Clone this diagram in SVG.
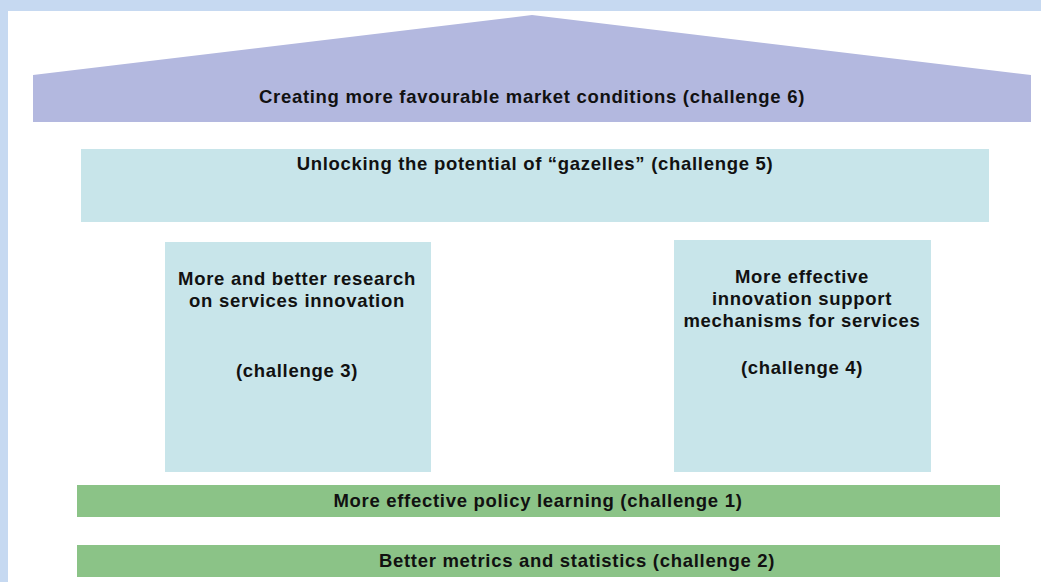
<svg xmlns="http://www.w3.org/2000/svg" width="1041" height="582" viewBox="0 0 1041 582">
  <style>
    .lbl { font-family: "Liberation Sans", Arial, sans-serif; font-weight: bold; font-size: 18.5px; letter-spacing: 0.7px; fill: #111; text-anchor: middle; }
    .roof { fill: #b3b8df; }
    .pale { fill: #c8e5ea; }
    .base { fill: #8bc387; }
  </style>
  <!-- page frame -->
  <rect x="0" y="0" width="1041" height="582" fill="#c6d9f1"/>
  <rect x="8" y="11" width="1033" height="571" fill="#ffffff"/>

  <g id="roof">
    <polygon class="roof" points="33,75 532,15 1031,75 1031,122 33,122"/>
    <text class="lbl" x="532" y="103">Creating more favourable market conditions (challenge 6)</text>
  </g>

  <g id="gazelles">
    <rect class="pale" x="81" y="149" width="908" height="73"/>
    <text class="lbl" x="535" y="170">Unlocking the potential of “gazelles” (challenge 5)</text>
  </g>

  <g id="research">
    <rect class="pale" x="165" y="242" width="266" height="230"/>
    <text class="lbl" x="297" y="285">More and better research</text>
    <text class="lbl" x="297" y="307">on services innovation</text>
    <text class="lbl" x="297" y="377">(challenge 3)</text>
  </g>

  <g id="support">
    <rect class="pale" x="674" y="240" width="257" height="232"/>
    <text class="lbl" x="802" y="283">More effective</text>
    <text class="lbl" x="802" y="305">innovation support</text>
    <text class="lbl" x="802" y="327">mechanisms for services</text>
    <text class="lbl" x="802" y="374">(challenge 4)</text>
  </g>

  <g id="policy-learning">
    <rect class="base" x="77" y="485" width="923" height="32"/>
    <text class="lbl" x="538" y="507">More effective policy learning (challenge 1)</text>
  </g>

  <g id="metrics">
    <rect class="base" x="77" y="545" width="923" height="32"/>
    <text class="lbl" x="577" y="567">Better metrics and statistics (challenge 2)</text>
  </g>

  <g id="connectors"></g>
</svg>
